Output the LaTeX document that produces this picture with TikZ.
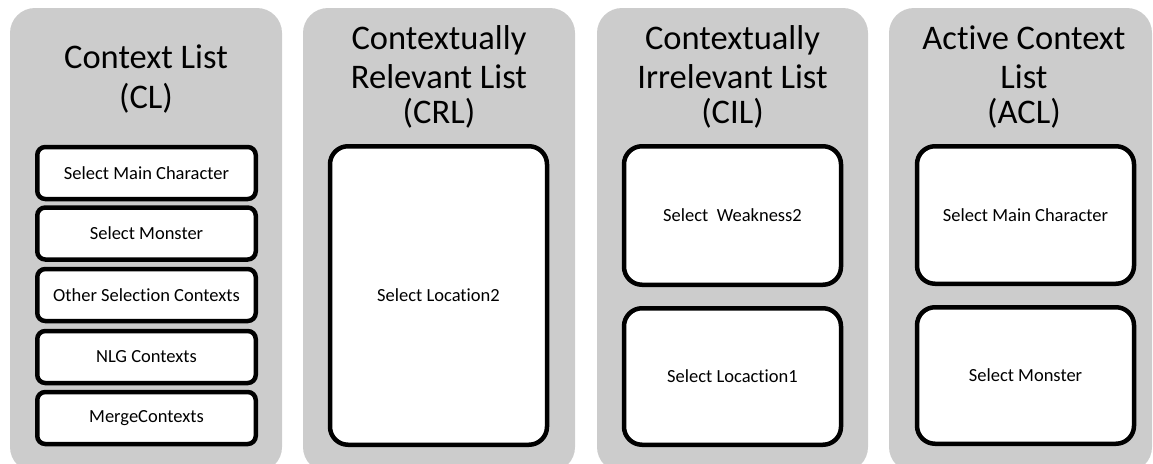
\documentclass[tikz,border=0pt]{standalone}
\usepackage{fontspec}
\setmainfont[Ligatures={NoCommon}]{Carlito}
\definecolor{panelgray}{RGB}{204,204,204}
\begin{document}
\begin{tikzpicture}[x=1pt,y=-1pt,
  panel/.style={fill=panelgray,draw=none,rounded corners=25pt,inner sep=0pt,outer sep=0pt},
  ttl/.style={anchor=base,inner sep=0pt,font=\fontsize{34.5}{40}\selectfont},
  itembox/.style={draw=black,fill=white,line width=4.5pt,rounded corners=8pt,inner sep=0pt,
    minimum width=218.5pt,minimum height=52pt,font=\fontsize{18.5}{21}\selectfont},
  bigbox/.style={itembox,rounded corners=18pt,minimum width=217pt}]
\useasboundingbox (0,0) rectangle (1153,463);
\begin{scope}
\clip (0,0) rectangle (1153,463);
\node[panel,minimum width=272pt,minimum height=464pt] (p1) at (146,240) {};
\node[panel,minimum width=272pt,minimum height=464pt] (p2) at (439,240) {};
\node[panel,minimum width=271pt,minimum height=464pt] (p3) at (732.5,240) {};
\node[panel,minimum width=263pt,minimum height=464pt] (p4) at (1020.5,240) {};
\end{scope}
% titles
\node[ttl] (t1a) at (146,68) {Context List};
\node[ttl] (t1b) at (146,108) {(CL)};
\node[ttl] (t2a) at (439,49) {Contextually};
\node[ttl] (t2b) at (439,88) {Relevant List};
\node[ttl] (t2c) at (439,123) {(CRL)};
\node[ttl] (t3a) at (732.5,49) {Contextually};
\node[ttl] (t3b) at (732.5,88) {Irrelevant List};
\node[ttl] (t3c) at (732.5,123) {(CIL)};
\node[ttl] (t4a) at (1024,49) {Active Context};
\node[ttl] (t4b) at (1024,88) {List};
\node[ttl] (t4c) at (1024,123) {(ACL)};
% CL items
\node[itembox] (c1) at (146.5,173) {Select Main Character};
\node[itembox] (c2) at (146.5,233.5) {Select Monster};
\node[itembox] (c3) at (146.5,295) {Other Selection Contexts};
\node[itembox] (c4) at (146.5,357) {NLG Contexts};
\node[itembox] (c5) at (146.5,418) {MergeContexts};
% CRL
\node[bigbox,minimum height=298.5pt] (r1) at (438.5,295.5) {Select Location2};
% CIL
\node[bigbox,minimum height=138.5pt] (i1) at (732.5,215.5) {Select\ \ Weakness2};
\node[bigbox,minimum height=136.5pt] (i2) at (732.5,376.5) {Select Locaction1};
% ACL
\node[bigbox,minimum height=137.5pt] (a1) at (1025.5,215) {Select Main Character};
\node[bigbox,minimum height=136.5pt] (a2) at (1025.5,375.5) {Select Monster};
\end{tikzpicture}
\end{document}
